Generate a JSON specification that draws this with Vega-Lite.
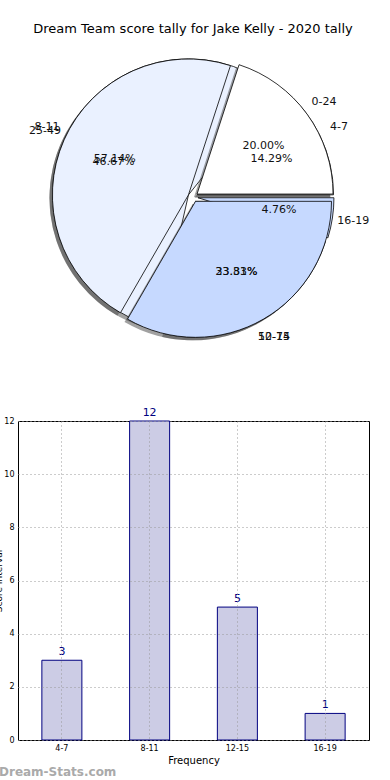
{
  "$schema": "https://vega.github.io/schema/vega-lite/v6.json",
  "padding": {"left": -6, "top": 23, "right": 0, "bottom": 0},
  "bounds": "flush",
  "spacing": 64,
  "config": {"font": "DejaVu Sans", "view": {"stroke": null}},
  "datasets": {
    "freq": [
      {"label": "4-7", "v": 3, "i": 1, "pct": "14.29%"},
      {"label": "8-11", "v": 12, "i": 2, "pct": "57.14%"},
      {"label": "12-15", "v": 5, "i": 3, "pct": "23.81%"},
      {"label": "16-19", "v": 1, "i": 4, "pct": "4.76%"}
    ],
    "range": [
      {"label": "0-24", "v": 20, "i": 1, "pct": "20.00%"},
      {"label": "25-49", "v": 46.67, "i": 2, "pct": "46.67%"},
      {"label": "50-74", "v": 33.33, "i": 3, "pct": "33.33%"}
    ]
  },
  "vconcat": [
    {
      "width": 350,
      "height": 320,
      "title": {"text": "Dream Team score tally for Jake Kelly - 2020 tally", "fontSize": 13, "fontWeight": "normal", "offset": 1, "anchor": "middle", "color": "black"},
      "encoding": {
        "theta": {"field": "v", "type": "quantitative", "stack": "normalize", "scale": {"domain": [0, 1], "range": [1.5708, -4.7124]}},
        "order": {"field": "i", "type": "quantitative"}
      },
      "layer": [
        {
          "data": {"name": "freq"},
          "mark": {"type": "arc", "outerRadius": 136, "fill": "#444444", "opacity": 0.5,
            "xOffset": {"expr": "5*sin(PI/2 - PI*(datum.v_start+datum.v_end)) - 3"},
            "yOffset": {"expr": "-5*cos(PI/2 - PI*(datum.v_start+datum.v_end)) + 3"}},
          "encoding": {"detail": {"field": "label"}}
        },
        {
          "data": {"name": "freq"},
          "mark": {"type": "arc", "outerRadius": 136, "stroke": "black", "strokeWidth": 0.8,
            "xOffset": {"expr": "5*sin(PI/2 - PI*(datum.v_start+datum.v_end))"},
            "yOffset": {"expr": "-5*cos(PI/2 - PI*(datum.v_start+datum.v_end))"}},
          "encoding": {"color": {"field": "label", "type": "nominal", "legend": null,
            "scale": {"domain": ["4-7", "8-11", "12-15", "16-19", "0-24", "25-49", "50-74"],
                      "range": ["#ffffff", "#eaf1ff", "#c6d9ff", "#c6d9ff", "#ffffff", "#eaf1ff", "#c6d9ff"]}}}
        },
        {
          "data": {"name": "range"},
          "mark": {"type": "arc", "outerRadius": 136, "fill": "#444444", "opacity": 0.5,
            "xOffset": {"expr": "5*sin(PI/2 - PI*(datum.v_start+datum.v_end)) - 3"},
            "yOffset": {"expr": "-5*cos(PI/2 - PI*(datum.v_start+datum.v_end)) + 3"}},
          "encoding": {"detail": {"field": "label"}}
        },
        {
          "data": {"name": "range"},
          "mark": {"type": "arc", "outerRadius": 136, "stroke": "black", "strokeWidth": 0.8,
            "xOffset": {"expr": "5*sin(PI/2 - PI*(datum.v_start+datum.v_end))"},
            "yOffset": {"expr": "-5*cos(PI/2 - PI*(datum.v_start+datum.v_end))"}},
          "encoding": {"color": {"field": "label", "type": "nominal", "legend": null}}
        },
        {
          "data": {"name": "freq"},
          "mark": {"type": "text", "radius": 162, "fontSize": 11, "color": "#111111"},
          "encoding": {"text": {"field": "label"}, "detail": {"field": "label"}}
        },
        {
          "data": {"name": "freq"},
          "mark": {"type": "text", "radius": 87, "fontSize": 11, "color": "#111111"},
          "encoding": {"text": {"field": "pct"}, "detail": {"field": "label"}}
        },
        {
          "data": {"name": "range"},
          "mark": {"type": "text", "radius": 162, "fontSize": 11, "color": "#111111"},
          "encoding": {"text": {"field": "label"}, "detail": {"field": "label"}}
        },
        {
          "data": {"name": "range"},
          "mark": {"type": "text", "radius": 87, "fontSize": 11, "color": "#111111"},
          "encoding": {"text": {"field": "pct"}, "detail": {"field": "label"}}
        }
      ]
    },
    {
      "width": 351,
      "height": 319,
      "data": {"name": "freq"},
      "view": {"stroke": "black", "strokeWidth": 1},
      "title": {"text": "Dream-Stats.com", "orient": "bottom", "anchor": "start", "frame": "group", "dx": -19, "offset": 2, "fontSize": 12, "fontWeight": "bold", "color": "#aaaaaa"},
      "encoding": {
        "x": {"field": "label", "type": "nominal", "sort": ["4-7", "8-11", "12-15", "16-19"],
          "scale": {"paddingInner": 0.544, "paddingOuter": 0.272},
          "axis": {"title": "Frequency", "titleFontSize": 10, "titleFontWeight": "normal", "titlePadding": 3, "titleColor": "black",
                   "labelFontSize": 8, "labelAngle": 0, "labelPadding": 4, "labelColor": "black",
                   "ticks": false, "domain": false, "grid": true, "gridDash": [1, 3], "gridColor": "#999999", "bandPosition": 0.5, "zindex": 1}},
        "y": {"field": "v", "type": "quantitative", "scale": {"domain": [0, 12]},
          "axis": {"title": "Score Interval", "titleFontSize": 9, "titleFontWeight": "normal", "titlePadding": 0, "titleColor": "black",
                   "labelFontSize": 8, "labelPadding": 4, "labelColor": "black", "values": [0, 2, 4, 6, 8, 10, 12],
                   "ticks": false, "domain": false, "grid": true, "gridDash": [1, 3], "gridColor": "#999999", "zindex": 1}}
      },
      "layer": [
        {"mark": {"type": "bar", "fill": "#ccccE5", "stroke": "#000080", "strokeWidth": 1}},
        {"mark": {"type": "text", "baseline": "bottom", "dy": -3, "fontSize": 11, "color": "#000080"},
         "encoding": {"text": {"field": "v", "type": "quantitative"}}}
      ]
    }
  ]
}
